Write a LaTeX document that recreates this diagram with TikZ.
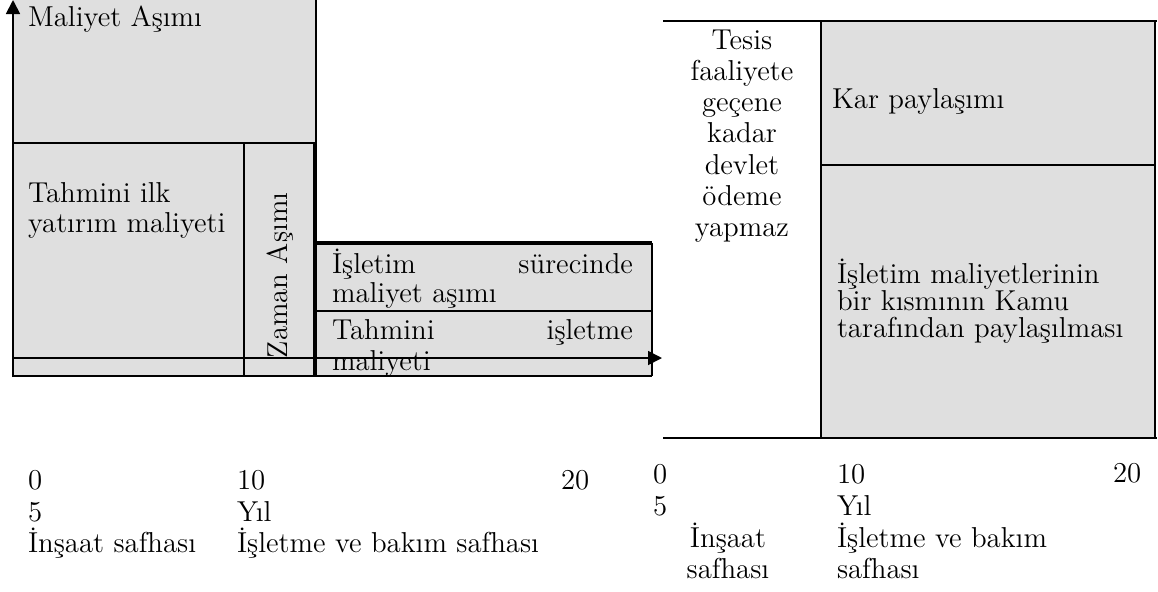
\documentclass[tikz,border=0pt]{standalone}
\usepackage{fontspec}
\usetikzlibrary{arrows.meta}
\definecolor{boxgray}{RGB}{223,223,223}
\tikzset{
  lbl/.style={inner sep=0pt, outer sep=0pt, anchor=base west, font=\fontsize{14.4}{15.6}\selectfont},
  thinln/.style={line width=0.55pt},
  midln/.style={line width=1pt},
  thickln/.style={line width=1.7pt},
  axisarrow/.style={line width=0.9pt, -{Triangle[length=7pt,width=7pt]}},
}
\begin{document}
\begin{tikzpicture}[x=0.5pt,y=-0.5pt]
\useasboundingbox (0,0) rectangle (1158,591);
% ---------- left diagram ----------
\fill[boxgray] (13,0) rectangle (316,143);
\fill[boxgray] (13,143) rectangle (316,376);
\fill[boxgray] (316,243) rectangle (652,376);
\draw[thinln] (316,0) -- (316,143);
\draw[thinln] (13,143) -- (316,143);
\draw[thinln] (244,143) -- (244,376);
\draw[thickln] (315,143) -- (315,376);
\draw[thickln] (313,243) -- (652,243);
\draw[thinln] (316,311) -- (652,311);
\draw[midln] (652,243) -- (652,376);
\draw[midln] (13,376) -- (652,376);
\coordinate (yb) at (13,377);
\coordinate (yt) at (13,0);
\draw[axisarrow] (yb) -- (yt);
\coordinate (xa) at (13,358);
\coordinate (xe) at (662,358);
\draw[axisarrow] (xa) -- (xe);
\node[lbl] (ma) at (28,26) {Maliyet Aşımı};
\node[lbl] (tiy) at (28,202) {\vtop{\baselineskip=15pt\hbox{Tahmini ilk}\hbox{yatırım maliyeti}}};
\node[lbl, rotate=90] (za) at (287,358) {Zaman Aşımı};
\node[lbl] (isa) at (332,273) {\vtop{\baselineskip=14.5pt\hbox to 150.5pt{İşletim\hfill sürecinde}\hbox{maliyet aşımı}}};
\node[lbl] (tim) at (332,339) {\vtop{\baselineskip=15.5pt\hbox to 150.5pt{Tahmini\hfill işletme}\hbox{maliyeti}}};
% left scale
\node[lbl] (l0) at (28,489) {0};
\node[lbl] (l10) at (237,489) {10};
\node[lbl] (l20) at (561,489) {20};
\node[lbl] (l5) at (28,521) {5};
\node[lbl] (lyil) at (237,521) {Yıl};
\node[lbl] (lins) at (28,552) {İnşaat safhası};
\node[lbl] (lisl) at (237,552) {İşletme ve bakım safhası};
% ---------- right diagram ----------
\fill[boxgray] (821,21) rectangle (1155,438);
\draw[midln] (663,21) -- (1157,21);
\draw[midln] (821,21) -- (821,438);
\draw[midln] (821,165) -- (1155,165);
\draw[midln] (1155,21) -- (1155,438);
\draw[midln] (663,438) -- (1157,438);
\node[lbl, anchor=base] (tesis) at (742,49) {\vtop{\baselineskip=15.65pt\halign{\hfil#\hfil\cr Tesis\cr faaliyete\cr geçene\cr kadar\cr devlet\cr ödeme\cr yapmaz\cr}}};
\node[lbl] (kar) at (832,108) {Kar paylaşımı};
\node[lbl] (iml) at (837,283) {\vtop{\baselineskip=13.6pt\hbox{İşletim maliyetlerinin}\hbox{bir kısmının Kamu}\hbox{tarafından paylaşılması}}};
% right scale
\node[lbl] (r0) at (653,483) {0};
\node[lbl] (r10) at (837,483) {10};
\node[lbl] (r20) at (1113,482) {20};
\node[lbl] (r5) at (653,515) {5};
\node[lbl] (ryil) at (837,515) {Yıl};
\node[lbl, anchor=base] (rins) at (728,547) {\vtop{\baselineskip=15.65pt\halign{\hfil#\hfil\cr İnşaat\cr safhası\cr}}};
\node[lbl] (risl) at (837,547) {\vtop{\baselineskip=15.65pt\hbox{İşletme ve bakım}\hbox{safhası}}};
\end{tikzpicture}
\end{document}
